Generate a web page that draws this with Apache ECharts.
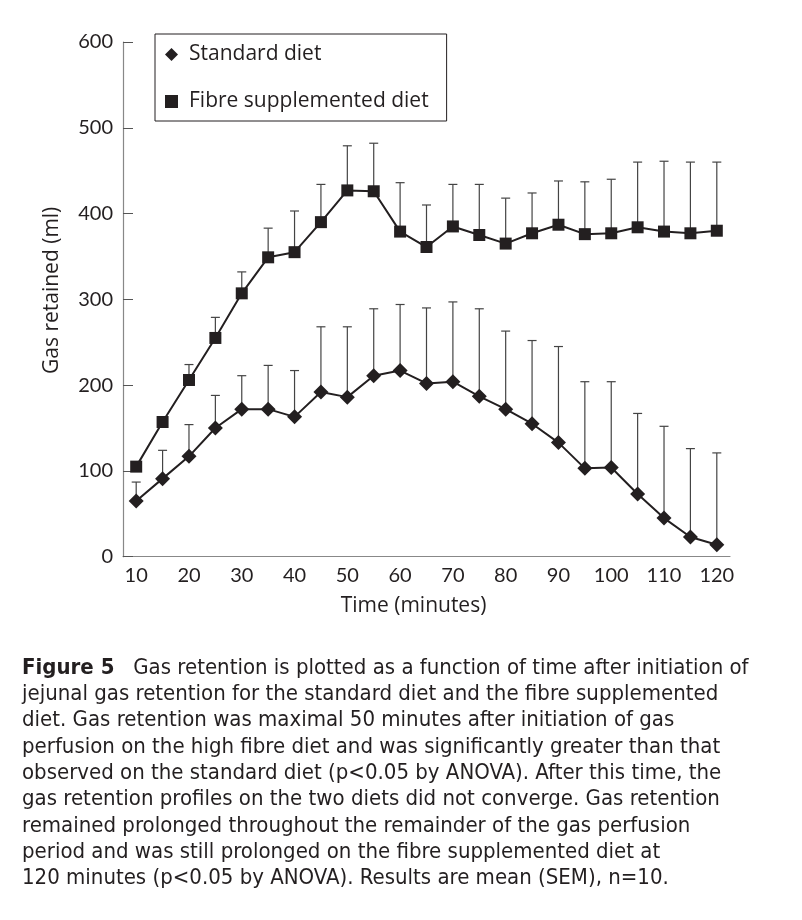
<!DOCTYPE html>
<html>
<head>
<meta charset="utf-8">
<script src="https://cdn.jsdelivr.net/npm/echarts@6/dist/echarts.min.js"></script>
<style>
html,body{margin:0;padding:0;background:#fff;}
#chart{width:802px;height:920px;}
</style>
</head>
<body>
<div id="chart"></div>
<script>
const times = ['10','15','20','25','30','35','40','45','50','55','60','65','70','75','80','85','90','95','100','105','110','115','120'];
const standardMean = [65, 91, 117, 150, 172, 172, 163, 192, 186, 211, 217, 202, 204, 187, 172, 155, 133, 103, 104, 73, 45, 23, 14];
const standardSEM  = [22, 33, 37, 38, 39, 51, 54, 76, 82, 78, 77, 88, 93, 102, 91, 97, 112, 101, 100, 94, 107, 103, 107];
const fibreMean = [105, 157, 206, 255, 307, 349, 355, 390, 427, 426, 379, 361, 385, 375, 365, 377, 387, 376, 377, 384, 379, 377, 380];
const fibreSEM  = [5, 5, 18, 24, 25, 34, 48, 44, 52, 56, 57, 49, 49, 59, 53, 47, 51, 61, 63, 76, 82, 83, 80];
const yTicks = [0, 100, 200, 300, 400, 500, 600];
const seriesNames = ['Standard diet', 'Fibre supplemented diet'];
const captionBold = 'Figure 5';
const captionLines = [
  '   Gas retention is plotted as a function of time after initiation of',
  'jejunal gas retention for the standard diet and the fibre supplemented',
  'diet. Gas retention was maximal 50 minutes after initiation of gas',
  'perfusion on the high fibre diet and was significantly greater than that',
  'observed on the standard diet (p<0.05 by ANOVA). After this time, the',
  'gas retention profiles on the two diets did not converge. Gas retention',
  'remained prolonged throughout the remainder of the gas perfusion',
  'period and was still prolonged on the fibre supplemented diet at',
  '120 minutes (p<0.05 by ANOVA). Results are mean (SEM), n=10.'
];

const FONT = 'Lato, "Noto Sans", sans-serif';
const TFONT = '"Open Sans", "Noto Sans", sans-serif';
const CAPFONT = '"Liberation Sans Narrow", "DejaVu Sans Condensed", "Noto Sans", sans-serif';
const INK = '#231f20';

function errData(mean, sem) {
  return mean.map((m, i) => [i, m + sem[i], m]);
}
function errRender(params, api) {
  const x = api.value(0), top = api.value(1), mean = api.value(2);
  const p0 = api.coord([x, mean]);
  const p1 = api.coord([x, top]);
  const st = {stroke: '#444', lineWidth: 1.2};
  return {type: 'group', children: [
    {type: 'line', shape: {x1: p0[0], y1: p0[1], x2: p1[0], y2: p1[1]}, style: st},
    {type: 'line', shape: {x1: p1[0] - 4.5, y1: p1[1], x2: p1[0] + 4.5, y2: p1[1]}, style: st}
  ]};
}

const graphics = captionLines.map((t, i) => ({
  type: 'text',
  left: 22,
  top: 657 + i * 26.3,
  style: {
    text: i === 0 ? '{b|' + captionBold + '}' + t : t,
    font: '22px ' + CAPFONT,
    fill: INK,
    rich: {b: {fontWeight: 'bold', fontSize: 22, fontFamily: CAPFONT, fill: INK}}
  }
}));

const chart = echarts.init(document.getElementById('chart'));
chart.setOption({
  backgroundColor: '#fff',
  animation: false,
  grid: {left: 123, right: 72, top: 42, height: 514.7},
  legend: {
    left: 155, top: 34, orient: 'vertical',
    padding: [10, 18, 9, 10],
    itemWidth: 13, itemHeight: 13, itemGap: 26,
    borderColor: INK, borderWidth: 1,
    textStyle: {fontSize: 21, fontFamily: TFONT, color: INK, padding: [0, 0, 0, 6]},
    data: [{name: seriesNames[0], icon: 'diamond'}, {name: seriesNames[1], icon: 'rect'}]
  },
  xAxis: {
    type: 'category', data: times, boundaryGap: true,
    name: 'Time (minutes)', nameLocation: 'middle', nameGap: 39,
    nameTextStyle: {fontSize: 21, fontFamily: TFONT, color: INK, padding: [0, 26, 0, 0]},
    axisLine: {lineStyle: {color: '#888', width: 1.2}},
    axisTick: {inside: true, length: 6, interval: 0, lineStyle: {color: '#555'}},
    axisLabel: {interval: 1, fontSize: 20, fontFamily: FONT, color: INK, margin: 9},
    splitLine: {show: false}
  },
  yAxis: {
    type: 'value', min: 0, max: 600, interval: 100,
    name: 'Gas retained (ml)', nameLocation: 'middle', nameGap: 60,
    nameTextStyle: {fontSize: 21, fontFamily: TFONT, color: INK, padding: [0, 0, 0, 18]},
    axisLine: {show: true, lineStyle: {color: '#888', width: 1.2}},
    axisTick: {show: true, inside: true, length: 10, lineStyle: {color: '#555'}},
    axisLabel: {fontSize: 20, fontFamily: FONT, color: INK, margin: 10,
      formatter: v => yTicks.includes(v) ? String(v) : ''},
    splitLine: {show: false}
  },
  series: [
    {type: 'custom', name: 'stdErr', renderItem: errRender, data: errData(standardMean, standardSEM),
      encode: {x: 0, y: 1}, z: 1, silent: true},
    {type: 'custom', name: 'fibErr', renderItem: errRender, data: errData(fibreMean, fibreSEM),
      encode: {x: 0, y: 1}, z: 1, silent: true},
    {type: 'line', name: seriesNames[0], data: standardMean, symbol: 'diamond', symbolSize: 15,
      lineStyle: {color: INK, width: 2}, itemStyle: {color: INK}, z: 3},
    {type: 'line', name: seriesNames[1], data: fibreMean, symbol: 'rect', symbolSize: 12,
      lineStyle: {color: INK, width: 2}, itemStyle: {color: INK}, z: 3}
  ],
  graphic: graphics
});
</script>
</body>
</html>
